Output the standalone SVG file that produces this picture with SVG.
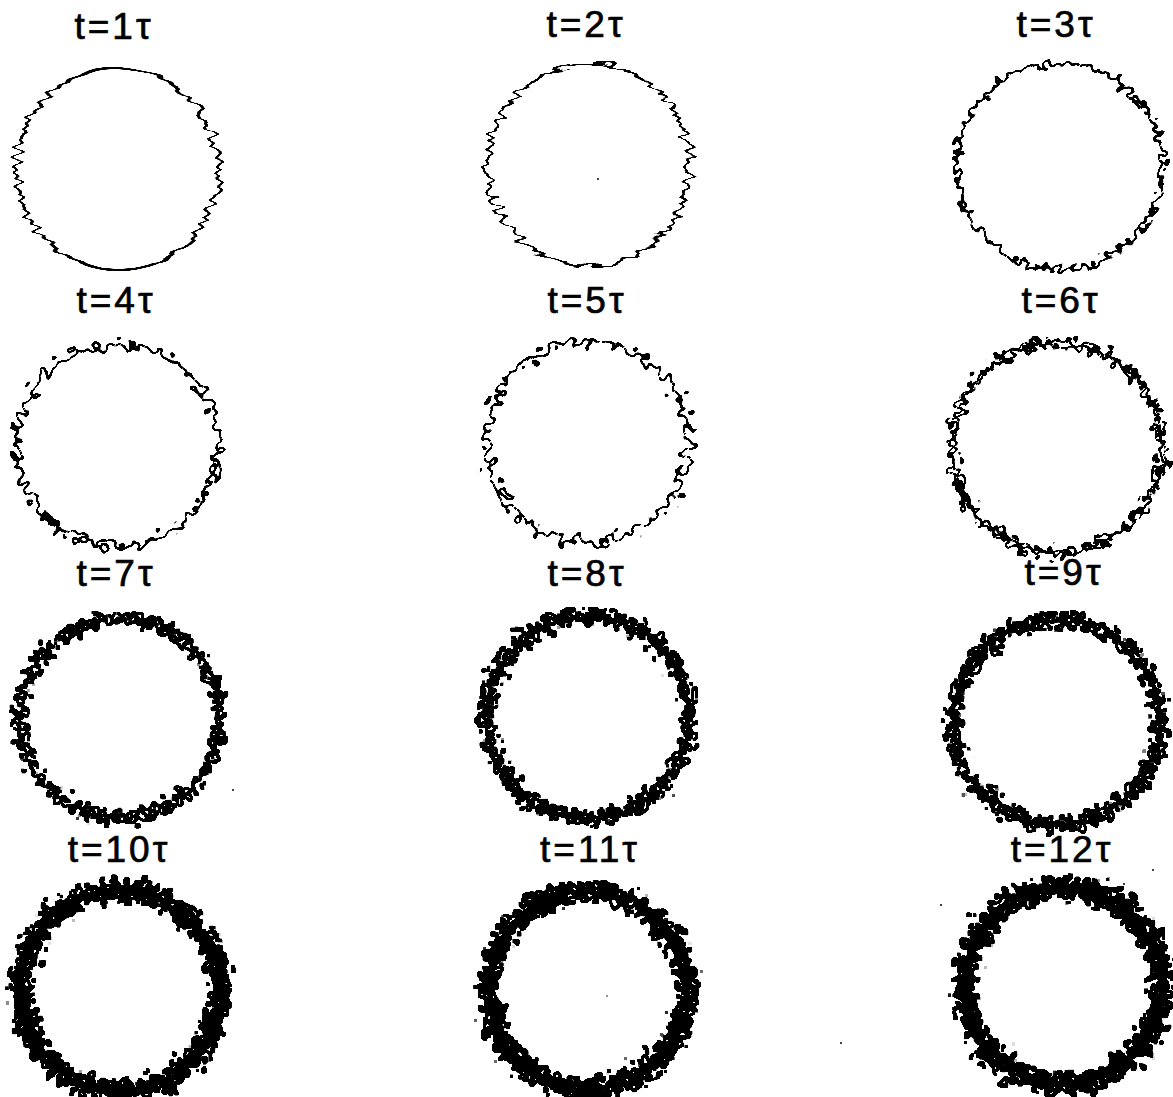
<svg xmlns="http://www.w3.org/2000/svg" width="1173" height="1097" viewBox="0 0 1173 1097">
<style>
  .lbl { font-family: "Liberation Sans", Arial, sans-serif; font-size: 37px; letter-spacing: 3px; fill: #000; stroke: #000; stroke-width: 0.7; text-anchor: middle; }
  .ring { fill: none; stroke: #000; }
</style>
<defs>
  <filter id="fx1" x="-15%" y="-15%" width="130%" height="130%">
    <feTurbulence type="fractalNoise" baseFrequency="0.002 0.2" numOctaves="1" seed="2" result="n"/>
    <feColorMatrix in="n" type="matrix" values="2.4 0 0 0 -0.7  0 0 0 0 0.5  0 0 0 0 0.5  0 0 0 0 1" result="m"/>
    <feDisplacementMap in="SourceGraphic" in2="m" scale="10" xChannelSelector="R" yChannelSelector="G" result="d"/>
    <feOffset in="d" dx="1" dy="0" result="o1"/>
    <feMerge result="mg"><feMergeNode in="d"/><feMergeNode in="o1"/></feMerge>
    <feComponentTransfer in="mg"><feFuncA type="linear" slope="2.2"/></feComponentTransfer>
  </filter>
  <filter id="fx2" x="-15%" y="-15%" width="130%" height="130%">
    <feTurbulence type="fractalNoise" baseFrequency="0.05 0.2" numOctaves="1" seed="7" result="n"/>
    <feColorMatrix in="n" type="matrix" values="2.4 0 0 0 -0.7  0 1.2 0 0 -0.1  0 0 0 0 0.5  0 0 0 0 1" result="m"/>
    <feDisplacementMap in="SourceGraphic" in2="m" scale="11" xChannelSelector="R" yChannelSelector="G" result="d"/>
    <feOffset in="d" dx="1" dy="0" result="o1"/>
    <feMerge result="mg"><feMergeNode in="d"/><feMergeNode in="o1"/></feMerge>
    <feComponentTransfer in="mg"><feFuncA type="linear" slope="2.4"/></feComponentTransfer>
  </filter>
  <filter id="fx3" x="-15%" y="-15%" width="130%" height="130%">
    <feTurbulence type="fractalNoise" baseFrequency="0.14" numOctaves="1" seed="11" result="n"/>
    <feColorMatrix in="n" type="matrix" values="2.4 0 0 0 -0.7  0 2.4 0 0 -0.7  0 0 0 0 0.5  0 0 0 0 1" result="m"/>
    <feDisplacementMap in="SourceGraphic" in2="m" scale="11" xChannelSelector="R" yChannelSelector="G" result="d"/>
    <feOffset in="d" dx="1" dy="0" result="o1"/>
    <feOffset in="d" dx="0" dy="1" result="o2"/>
    <feMerge result="mg"><feMergeNode in="d"/><feMergeNode in="o1"/><feMergeNode in="o2"/></feMerge>
    <feComponentTransfer in="mg"><feFuncA type="linear" slope="3"/></feComponentTransfer>
  </filter>
  <filter id="fx4" x="-15%" y="-15%" width="130%" height="130%">
    <feTurbulence type="fractalNoise" baseFrequency="0.13" numOctaves="1" seed="5" result="n"/>
    <feColorMatrix in="n" type="matrix" values="2.4 0 0 0 -0.7  0 2.4 0 0 -0.7  0 0 0 0 0.5  0 0 0 0 1" result="m"/>
    <feDisplacementMap in="SourceGraphic" in2="m" scale="13" xChannelSelector="R" yChannelSelector="G" result="d"/>
    <feOffset in="d" dx="1" dy="0" result="o1"/>
    <feOffset in="d" dx="0" dy="1" result="o2"/>
    <feMerge result="mg"><feMergeNode in="d"/><feMergeNode in="o1"/><feMergeNode in="o2"/></feMerge>
    <feComponentTransfer in="mg"><feFuncA type="linear" slope="3"/></feComponentTransfer>
  </filter>
  <filter id="fx5" x="-15%" y="-15%" width="130%" height="130%">
    <feTurbulence type="fractalNoise" baseFrequency="0.12" numOctaves="1" seed="9" result="n"/>
    <feColorMatrix in="n" type="matrix" values="2.4 0 0 0 -0.7  0 2.4 0 0 -0.7  0 0 0 0 0.5  0 0 0 0 1" result="m"/>
    <feDisplacementMap in="SourceGraphic" in2="m" scale="16" xChannelSelector="R" yChannelSelector="G" result="d"/>
    <feOffset in="d" dx="1" dy="0" result="o1"/>
    <feOffset in="d" dx="0" dy="1" result="o2"/>
    <feMerge result="mg"><feMergeNode in="d"/><feMergeNode in="o1"/><feMergeNode in="o2"/></feMerge>
    <feComponentTransfer in="mg"><feFuncA type="linear" slope="3"/></feComponentTransfer>
  </filter>
  <filter id="fx6" x="-15%" y="-15%" width="130%" height="130%">
    <feTurbulence type="fractalNoise" baseFrequency="0.12" numOctaves="1" seed="13" result="n1"/>
    <feColorMatrix in="n1" type="matrix" values="2.4 0 0 0 -0.7  0 2.4 0 0 -0.7  0 0 0 0 0.5  0 0 0 0 1" result="m1"/>
    <feDisplacementMap in="SourceGraphic" in2="m1" scale="17" xChannelSelector="R" yChannelSelector="G" result="a"/>
    <feTurbulence type="fractalNoise" baseFrequency="0.15" numOctaves="1" seed="21" result="n2"/>
    <feColorMatrix in="n2" type="matrix" values="2.4 0 0 0 -0.7  0 2.4 0 0 -0.7  0 0 0 0 0.5  0 0 0 0 1" result="m2"/>
    <feDisplacementMap in="SourceGraphic" in2="m2" scale="11" xChannelSelector="R" yChannelSelector="G" result="b"/>
    <feMerge result="mg"><feMergeNode in="a"/><feMergeNode in="b"/></feMerge>
    <feOffset in="mg" dx="1" dy="0" result="o1"/>
    <feOffset in="mg" dx="0" dy="1" result="o2"/>
    <feMerge result="mg2"><feMergeNode in="mg"/><feMergeNode in="o1"/><feMergeNode in="o2"/></feMerge>
    <feComponentTransfer in="mg2"><feFuncA type="linear" slope="3"/></feComponentTransfer>
  </filter>
  <filter id="fx7" x="-15%" y="-15%" width="130%" height="130%">
    <feTurbulence type="fractalNoise" baseFrequency="0.13" numOctaves="1" seed="31" result="n1"/>
    <feColorMatrix in="n1" type="matrix" values="2.4 0 0 0 -0.7  0 2.4 0 0 -0.7  0 0 0 0 0.5  0 0 0 0 1" result="m1"/>
    <feDisplacementMap in="SourceGraphic" in2="m1" scale="19" xChannelSelector="R" yChannelSelector="G" result="a"/>
    <feTurbulence type="fractalNoise" baseFrequency="0.16" numOctaves="1" seed="37" result="n2"/>
    <feColorMatrix in="n2" type="matrix" values="2.4 0 0 0 -0.7  0 2.4 0 0 -0.7  0 0 0 0 0.5  0 0 0 0 1" result="m2"/>
    <feDisplacementMap in="SourceGraphic" in2="m2" scale="15" xChannelSelector="R" yChannelSelector="G" result="b"/>
    <feMerge result="mg"><feMergeNode in="a"/><feMergeNode in="b"/></feMerge>
    <feMorphology in="mg" operator="dilate" radius="1" result="dl"/>
    <feComponentTransfer in="dl"><feFuncA type="linear" slope="2.5"/></feComponentTransfer>
  </filter>
  <filter id="fx8" x="-15%" y="-15%" width="130%" height="130%">
    <feTurbulence type="fractalNoise" baseFrequency="0.12" numOctaves="1" seed="41" result="n1"/>
    <feColorMatrix in="n1" type="matrix" values="2.4 0 0 0 -0.7  0 2.4 0 0 -0.7  0 0 0 0 0.5  0 0 0 0 1" result="m1"/>
    <feDisplacementMap in="SourceGraphic" in2="m1" scale="22" xChannelSelector="R" yChannelSelector="G" result="a"/>
    <feTurbulence type="fractalNoise" baseFrequency="0.15" numOctaves="1" seed="43" result="n2"/>
    <feColorMatrix in="n2" type="matrix" values="2.4 0 0 0 -0.7  0 2.4 0 0 -0.7  0 0 0 0 0.5  0 0 0 0 1" result="m2"/>
    <feDisplacementMap in="SourceGraphic" in2="m2" scale="19" xChannelSelector="R" yChannelSelector="G" result="b"/>
    <feTurbulence type="fractalNoise" baseFrequency="0.18" numOctaves="1" seed="47" result="n3"/>
    <feColorMatrix in="n3" type="matrix" values="2.4 0 0 0 -0.7  0 2.4 0 0 -0.7  0 0 0 0 0.5  0 0 0 0 1" result="m3"/>
    <feDisplacementMap in="SourceGraphic" in2="m3" scale="15" xChannelSelector="R" yChannelSelector="G" result="c"/>
    <feMerge result="mg"><feMergeNode in="a"/><feMergeNode in="b"/><feMergeNode in="c"/></feMerge>
    <feMorphology in="mg" operator="dilate" radius="1" result="dl"/>
    <feComponentTransfer in="dl"><feFuncA type="linear" slope="2.5"/></feComponentTransfer>
  </filter>
  <filter id="fx9" x="-15%" y="-15%" width="130%" height="130%">
    <feTurbulence type="fractalNoise" baseFrequency="0.1" numOctaves="1" seed="51" result="n1"/>
    <feColorMatrix in="n1" type="matrix" values="2.4 0 0 0 -0.7  0 2.4 0 0 -0.7  0 0 0 0 0.5  0 0 0 0 1" result="m1"/>
    <feDisplacementMap in="SourceGraphic" in2="m1" scale="28" xChannelSelector="R" yChannelSelector="G" result="a"/>
    <feTurbulence type="fractalNoise" baseFrequency="0.13" numOctaves="1" seed="53" result="n2"/>
    <feColorMatrix in="n2" type="matrix" values="2.4 0 0 0 -0.7  0 2.4 0 0 -0.7  0 0 0 0 0.5  0 0 0 0 1" result="m2"/>
    <feDisplacementMap in="SourceGraphic" in2="m2" scale="24" xChannelSelector="R" yChannelSelector="G" result="b"/>
    <feTurbulence type="fractalNoise" baseFrequency="0.16" numOctaves="1" seed="57" result="n3"/>
    <feColorMatrix in="n3" type="matrix" values="2.4 0 0 0 -0.7  0 2.4 0 0 -0.7  0 0 0 0 0.5  0 0 0 0 1" result="m3"/>
    <feDisplacementMap in="SourceGraphic" in2="m3" scale="21" xChannelSelector="R" yChannelSelector="G" result="c"/>
    <feTurbulence type="fractalNoise" baseFrequency="0.12" numOctaves="1" seed="59" result="n4"/>
    <feColorMatrix in="n4" type="matrix" values="2.4 0 0 0 -0.7  0 2.4 0 0 -0.7  0 0 0 0 0.5  0 0 0 0 1" result="m4"/>
    <feDisplacementMap in="SourceGraphic" in2="m4" scale="26" xChannelSelector="R" yChannelSelector="G" result="d"/>
    <feTurbulence type="fractalNoise" baseFrequency="0.14" numOctaves="1" seed="61" result="n5"/>
    <feColorMatrix in="n5" type="matrix" values="2.4 0 0 0 -0.7  0 2.4 0 0 -0.7  0 0 0 0 0.5  0 0 0 0 1" result="m5"/>
    <feDisplacementMap in="SourceGraphic" in2="m5" scale="18" xChannelSelector="R" yChannelSelector="G" result="e"/>
    <feMerge result="mg"><feMergeNode in="a"/><feMergeNode in="b"/><feMergeNode in="c"/><feMergeNode in="d"/><feMergeNode in="e"/></feMerge>
    <feMorphology in="mg" operator="dilate" radius="1" result="dl"/>
    <feComponentTransfer in="dl"><feFuncA type="linear" slope="3"/></feComponentTransfer>
  </filter>
</defs>
<rect width="1173" height="1097" fill="#fff"/>

<g id="panel-t1"><text class="lbl" x="114" y="39">t=1τ</text><circle class="ring" cx="117" cy="169" r="101" stroke-width="1.6" filter="url(#fx1)"/></g>
<g id="panel-t2"><text class="lbl" x="586" y="37">t=2τ</text><circle class="ring" cx="588" cy="165" r="101" stroke-width="1.6" filter="url(#fx2)"/></g>
<g id="panel-t3"><text class="lbl" x="1056" y="37">t=3τ</text><circle class="ring" cx="1059" cy="166" r="103" stroke-width="1.8" filter="url(#fx3)"/></g>

<g id="panel-t4"><text class="lbl" x="116" y="313">t=4τ</text><circle class="ring" cx="117" cy="445" r="101" stroke-width="1.9" filter="url(#fx4)"/></g>
<g id="panel-t5"><text class="lbl" x="587" y="313">t=5τ</text><circle class="ring" cx="587" cy="441" r="101" stroke-width="2.1" filter="url(#fx5)"/></g>
<g id="panel-t6"><text class="lbl" x="1061" y="313">t=6τ</text><circle class="ring" cx="1057" cy="447" r="105" stroke-width="2" filter="url(#fx6)"/></g>

<g id="panel-t7"><text class="lbl" x="116" y="586">t=7τ</text><circle class="ring" cx="120" cy="718" r="100" stroke-width="1.9" filter="url(#fx7)"/></g>
<g id="panel-t8"><text class="lbl" x="587" y="586">t=8τ</text><circle class="ring" cx="588" cy="717" r="101" stroke-width="2" filter="url(#fx8)"/></g>
<g id="panel-t9"><text class="lbl" x="1064" y="585">t=9τ</text><circle class="ring" cx="1057" cy="722" r="103" stroke-width="2.1" filter="url(#fx8)"/></g>

<g id="panel-t10"><text class="lbl" x="119" y="862">t=10τ</text><circle class="ring" cx="120" cy="991" r="100" stroke-width="2.8" filter="url(#fx9)"/></g>
<g id="panel-t11"><text class="lbl" x="590" y="862">t=11τ</text><circle class="ring" cx="588" cy="990" r="99" stroke-width="3.1" filter="url(#fx9)"/></g>
<g id="panel-t12"><text class="lbl" x="1062" y="862">t=12τ</text><circle class="ring" cx="1063" cy="986" r="98" stroke-width="3.4" filter="url(#fx9)"/></g>

<g id="specks" fill="#000">
  <circle cx="598" cy="179" r="1"/>
  <circle cx="233" cy="790" r="1"/>
  <circle cx="841" cy="1043" r="1"/>
  <circle cx="1153" cy="870" r="1"/>
  <circle cx="941" cy="905" r="1"/>
  <circle cx="1124" cy="884" r="1"/>
  <circle cx="607" cy="996" r="0.8"/>
</g>
</svg>
